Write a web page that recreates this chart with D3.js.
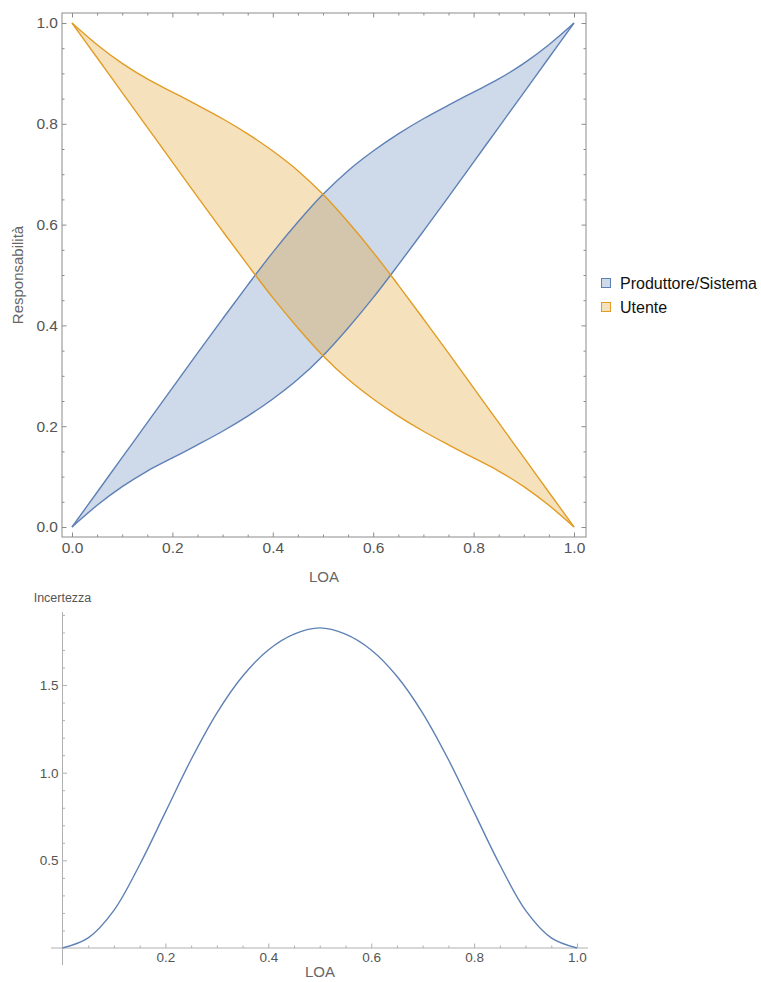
<!DOCTYPE html>
<head>
  <meta charset="utf-8">
  <script src="https://d3js.org/d3.v7.min.js"></script>
  <style>
    body { margin: 0; background: #fff; }
    * { font-family: "Liberation Sans", Arial, sans-serif; }
  </style>
</head>

<body>
  <svg width="761" height="982"></svg>

  <script>
    // LOA values on the x axis (both panels)
    const loa = [0, 0.05, 0.1, 0.15, 0.2, 0.25, 0.3, 0.35, 0.4, 0.45, 0.5,
                 0.55, 0.6, 0.65, 0.7, 0.75, 0.8, 0.85, 0.9, 0.95, 1];

    // Responsabilità bands
    const sistemaLow  = [0, 0.043, 0.08, 0.111, 0.137, 0.163, 0.19, 0.22, 0.254, 0.293, 0.34,
                         0.395, 0.455, 0.52, 0.587, 0.655, 0.724, 0.793, 0.862, 0.931, 1];
    const sistemaHigh = [0, 0.069, 0.138, 0.207, 0.276, 0.345, 0.413, 0.48, 0.545, 0.605, 0.66,
                         0.707, 0.746, 0.78, 0.81, 0.837, 0.863, 0.889, 0.92, 0.957, 1];
    const utenteLow   = [1, 0.931, 0.862, 0.793, 0.724, 0.655, 0.587, 0.52, 0.455, 0.395, 0.34,
                         0.293, 0.254, 0.22, 0.19, 0.163, 0.137, 0.111, 0.08, 0.043, 0];
    const utenteHigh  = [1, 0.957, 0.92, 0.889, 0.863, 0.837, 0.81, 0.78, 0.746, 0.707, 0.66,
                         0.605, 0.545, 0.48, 0.413, 0.345, 0.276, 0.207, 0.138, 0.069, 0];

    // Incertezza curve
    const incertezza = [0, 0.058, 0.215, 0.475, 0.775, 1.075, 1.34, 1.55, 1.70, 1.79, 1.826,
                        1.79, 1.70, 1.55, 1.34, 1.075, 0.775, 0.475, 0.215, 0.058, 0];

    const seriesNames = ["Produttore/Sistema", "Utente"];
    const topTicks = [0, 0.2, 0.4, 0.6, 0.8, 1.0];
    const botXTicks = [0.2, 0.4, 0.6, 0.8, 1.0];
    const botYTicks = [0.5, 1.0, 1.5];

    const blue = "#5E81B5";
    const orange = "#E19C24";

    const svg = d3.select("svg");

    // ---------- top panel ----------
    const x1 = d3.scaleLinear().domain([0, 1]).range([72, 574]);
    const y1 = d3.scaleLinear().domain([0, 1]).range([527, 23]);
    const frame = { l: 62, r: 586, t: 13, b: 537 };
    const smooth = d3.curveCatmullRom.alpha(0.5);

    const upper = svg.append("g");

    const band = (lo, hi) => d3.area()
      .x((d, i) => x1(loa[i]))
      .y0((d, i) => y1(lo[i]))
      .y1((d, i) => y1(hi[i]))
      .curve(smooth)(loa);
    const line = (vals) => d3.line()
      .x((d, i) => x1(loa[i]))
      .y((d, i) => y1(vals[i]))
      .curve(smooth)(loa);

    upper.append("path").attr("d", band(sistemaLow, sistemaHigh))
      .attr("fill", blue).attr("fill-opacity", 0.3);
    upper.append("path").attr("d", band(utenteLow, utenteHigh))
      .attr("fill", orange).attr("fill-opacity", 0.3);

    [sistemaLow, sistemaHigh].forEach(v => upper.append("path").attr("d", line(v))
      .attr("fill", "none").attr("stroke", blue).attr("stroke-width", 1.4));
    [utenteLow, utenteHigh].forEach(v => upper.append("path").attr("d", line(v))
      .attr("fill", "none").attr("stroke", orange).attr("stroke-width", 1.4));

    const minor = d3.range(0, 1.0001, 0.05).filter(v => Math.abs(v * 5 - Math.round(v * 5)) > 0.01);
    const fmt = d3.format(".1f");

    function styleAxis(g, col) {
      g.select(".domain").remove();
      g.selectAll("line").attr("stroke", col);
      g.selectAll("text").attr("fill", "#555").style("font-size", "15.5px");
    }

    const frameCol = "#8c8c8c";
    upper.append("g").attr("transform", `translate(${frame.l},0)`)
      .call(d3.axisLeft(y1).tickValues(topTicks).tickFormat(fmt).tickSize(-4.5).tickPadding(4))
      .call(g => styleAxis(g, frameCol));
    upper.append("g").attr("transform", `translate(${frame.l},0)`)
      .call(d3.axisLeft(y1).tickValues(minor).tickFormat("").tickSize(-2.5))
      .call(g => styleAxis(g, frameCol));
    upper.append("g").attr("transform", `translate(0,${frame.b})`)
      .call(d3.axisBottom(x1).tickValues(topTicks).tickFormat(fmt).tickSize(-4.5).tickPadding(5))
      .call(g => styleAxis(g, frameCol));
    upper.append("g").attr("transform", `translate(0,${frame.b})`)
      .call(d3.axisBottom(x1).tickValues(minor).tickFormat("").tickSize(-2.5))
      .call(g => styleAxis(g, frameCol));
    upper.append("g").attr("transform", `translate(${frame.r},0)`)
      .call(d3.axisRight(y1).tickValues(topTicks).tickFormat("").tickSize(-4.5))
      .call(g => styleAxis(g, frameCol));
    upper.append("g").attr("transform", `translate(${frame.r},0)`)
      .call(d3.axisRight(y1).tickValues(minor).tickFormat("").tickSize(-2.5))
      .call(g => styleAxis(g, frameCol));
    upper.append("g").attr("transform", `translate(0,${frame.t})`)
      .call(d3.axisTop(x1).tickValues(topTicks).tickFormat("").tickSize(-4.5))
      .call(g => styleAxis(g, frameCol));
    upper.append("g").attr("transform", `translate(0,${frame.t})`)
      .call(d3.axisTop(x1).tickValues(minor).tickFormat("").tickSize(-2.5))
      .call(g => styleAxis(g, frameCol));

    upper.append("rect")
      .attr("x", frame.l).attr("y", frame.t)
      .attr("width", frame.r - frame.l).attr("height", frame.b - frame.t)
      .attr("fill", "none").attr("stroke", frameCol).attr("stroke-width", 1);

    upper.append("text").text("LOA")
      .attr("x", (frame.l + frame.r) / 2).attr("y", 582)
      .attr("text-anchor", "middle").attr("fill", "#666").style("font-size", "15px");
    upper.append("text").text("Responsabilità")
      .attr("transform", `translate(23,${(frame.t + frame.b) / 2}) rotate(-90)`)
      .attr("text-anchor", "middle").attr("fill", "#666").style("font-size", "15px");

    // legend
    const legend = svg.append("g");
    seriesNames.forEach((name, i) => {
      const col = i === 0 ? blue : orange;
      const cy = 283 + i * 24;
      legend.append("rect")
        .attr("x", 601.5).attr("y", cy - 4.5).attr("width", 9).attr("height", 9)
        .attr("fill", col).attr("fill-opacity", 0.3)
        .attr("stroke", col).attr("stroke-width", 1);
      legend.append("text").text(name)
        .attr("x", 620).attr("y", cy + 5.5)
        .attr("fill", "#111").style("font-size", "16px");
    });

    // ---------- bottom panel ----------
    const x2 = d3.scaleLinear().domain([0, 1]).range([62.5, 577]);
    const y2 = d3.scaleLinear().domain([0, 1.92]).range([948, 611.4]);
    const axisCol = "#b0b0b0";
    const lower = svg.append("g");

    lower.append("line").attr("x1", 51).attr("x2", 588).attr("y1", y2(0)).attr("y2", y2(0))
      .attr("stroke", axisCol);
    lower.append("line").attr("x1", x2(0)).attr("x2", x2(0)).attr("y1", 612).attr("y2", 965)
      .attr("stroke", axisCol);

    const bMinorX = d3.range(0.05, 1.0001, 0.05).filter(v => Math.abs(v * 5 - Math.round(v * 5)) > 0.01);
    const bMinorY = d3.range(0.1, 1.9001, 0.1).filter(v => Math.abs(v * 2 - Math.round(v * 2)) > 0.01);

    function styleB(g) {
      g.select(".domain").remove();
      g.selectAll("line").attr("stroke", axisCol);
      g.selectAll("text").attr("fill", "#555").style("font-size", "13.5px");
    }

    lower.append("g").attr("transform", `translate(0,${y2(0)})`)
      .call(d3.axisBottom(x2).tickValues(botXTicks).tickFormat(fmt).tickSize(-4.5).tickPadding(4))
      .call(styleB);
    lower.append("g").attr("transform", `translate(0,${y2(0)})`)
      .call(d3.axisBottom(x2).tickValues(bMinorX).tickFormat("").tickSize(-2.5))
      .call(styleB);
    lower.append("g").attr("transform", `translate(${x2(0)},0)`)
      .call(d3.axisLeft(y2).tickValues(botYTicks).tickFormat(fmt).tickSize(-4.5).tickPadding(4))
      .call(styleB);
    lower.append("g").attr("transform", `translate(${x2(0)},0)`)
      .call(d3.axisLeft(y2).tickValues(bMinorY).tickFormat("").tickSize(-2.5))
      .call(styleB);

    lower.append("path")
      .attr("d", d3.line()
        .x((d, i) => x2(loa[i]))
        .y((d, i) => y2(incertezza[i]))
        .curve(smooth)(loa))
      .attr("fill", "none").attr("stroke", blue).attr("stroke-width", 1.4);

    lower.append("text").text("Incertezza")
      .attr("x", x2(0)).attr("y", 602)
      .attr("text-anchor", "middle").attr("fill", "#555").style("font-size", "12.5px");
    lower.append("text").text("LOA")
      .attr("x", 320).attr("y", 977)
      .attr("text-anchor", "middle").attr("fill", "#666").style("font-size", "15px");
  </script>
</body>
